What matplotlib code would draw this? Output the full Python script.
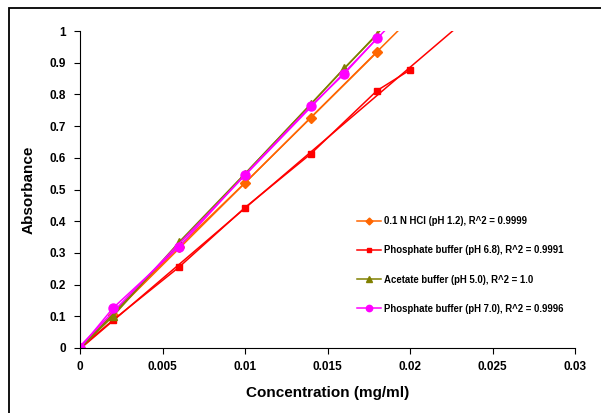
import matplotlib
matplotlib.use("Agg")
import matplotlib.pyplot as plt
import numpy as np
from matplotlib.patches import Rectangle
from matplotlib.ticker import FuncFormatter

plt.rcParams["font.family"] = ["Liberation Sans", "DejaVu Sans"]
plt.rcParams["font.weight"] = "bold"

# values
hcl_x = [0, 0.002, 0.006, 0.01, 0.014, 0.018]
hcl_y = [0, 0.105, 0.32, 0.521, 0.727, 0.933]

phos68_x = [0, 0.002, 0.006, 0.01, 0.014, 0.018, 0.02]
phos68_y = [0, 0.088, 0.255, 0.443, 0.613, 0.812, 0.877]

acet_x = [0, 0.002, 0.006, 0.01, 0.014, 0.016, 0.018]
acet_y = [0, 0.1, 0.334, 0.55, 0.77, 0.882, 0.988]

phos70_x = [0, 0.002, 0.006, 0.01, 0.014, 0.016, 0.018]
phos70_y = [0, 0.126, 0.319, 0.547, 0.764, 0.864, 0.977]

labels = [
    "0.1 N HCl (pH 1.2), R^2 = 0.9999",
    "Phosphate buffer (pH 6.8), R^2 = 0.9991",
    "Acetate buffer (pH 5.0), R^2 = 1.0",
    "Phosphate buffer (pH 7.0), R^2 = 0.9996",
]
colors = ["#FF6600", "#FF0000", "#808000", "#FF00FF"]
markers = ["D", "s", "^", "o"]
msizes = [5, 5, 5.5, 6.5]

fig = plt.figure(figsize=(6.01, 4.13), dpi=100)
ax = fig.add_axes([80 / 601, 1 - 348 / 413, 495 / 601, 317 / 413])

series = [(hcl_x, hcl_y), (phos68_x, phos68_y), (acet_x, acet_y), (phos70_x, phos70_y)]
xfit = np.array([0, 0.03])
for (xs, ys), lab, c, m, ms in zip(series, labels, colors, markers, msizes):
    # linear trendline drawn under the data series
    slope, icpt = np.polyfit(xs, ys, 1)
    ax.plot(xfit, slope * xfit + icpt, color=c, lw=1.1)
    ax.plot(xs, ys, color=c, lw=1.1, marker=m, ms=ms, mec=c, mfc=c, label=lab)

ax.set_xlim(0, 0.03)
ax.set_ylim(0, 1)
ax.set_xticks(np.arange(0, 0.0301, 0.005))
ax.set_yticks(np.arange(0, 1.001, 0.1))
ax.xaxis.set_major_formatter(FuncFormatter(lambda v, p: "%g" % round(v, 4)))
ax.yaxis.set_major_formatter(FuncFormatter(lambda v, p: "%g" % round(v, 2)))
ax.tick_params(axis="both", labelsize=8.5, length=4, width=0.8, direction="out")
ax.tick_params(axis="y", pad=6)
ax.tick_params(axis="x", pad=5)
ax.spines["top"].set_visible(False)
ax.spines["right"].set_visible(False)
ax.spines["left"].set_linewidth(0.8)
ax.spines["bottom"].set_linewidth(0.8)
for lbl in ax.get_xticklabels() + ax.get_yticklabels():
    lbl.set_fontweight("bold")

ax.set_xlabel("Concentration (mg/ml)", fontsize=11, fontweight="bold", labelpad=10)
ax.set_ylabel("Absorbance", fontsize=11, fontweight="bold", labelpad=10)

ax.legend(loc="center left", bbox_to_anchor=(0.549, 0.262), frameon=False,
          prop={"weight": "bold", "size": 6.9}, labelspacing=2.0,
          handlelength=2.5, handletextpad=0.4, borderpad=0, markerscale=0.7)

# outer frame (only top and left edges fall inside the image)
fig.patches.append(Rectangle((9 / 601, -0.1), 1.2, 1 - 8 / 413 + 0.1, transform=fig.transFigure,
                             fill=False, edgecolor="black", lw=1.3))

fig.savefig("out.png", dpi=100)
